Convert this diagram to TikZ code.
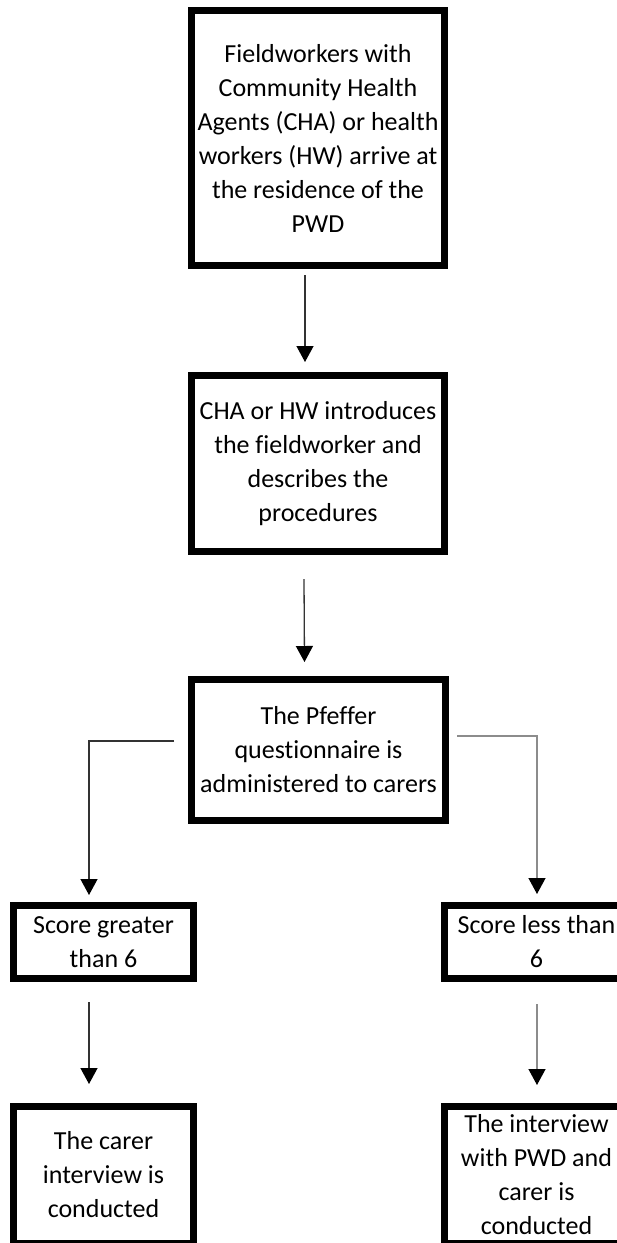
\documentclass[tikz,border=0pt]{standalone}
\usepackage{fontspec}
\setmainfont{Carlito}[Ligatures=CommonOff]
\usetikzlibrary{arrows.meta}

\tikzset{
  stepbox/.style={draw, line width=7pt, inner sep=0pt, align=center,
    font=\fontsize{26}{34}\selectfont},
  arr/.style={line width=1.3pt, draw=black!80,
    -{Triangle[width=17pt,length=16pt,color=black]}},
  arrgrey/.style={arr, draw=black!45},
}

\begin{document}
\begin{tikzpicture}[x=1pt,y=-1pt]
    \useasboundingbox (0,0) rectangle (617,1243);
    \clip (0,0) rectangle (617,1243);

    % main column
    \node[stepbox, minimum width=253pt, minimum height=255pt] (arrive) at (318,138)
        {Fieldworkers with\\Community Health\\Agents (CHA) or health\\workers (HW) arrive at\\the residence of the\\PWD};
    \node[stepbox, minimum width=253pt, minimum height=176pt] (intro) at (318,463.5)
        {CHA or HW introduces\\the fieldworker and\\describes the\\procedures};
    \node[stepbox, minimum width=254pt, minimum height=141pt] (pfeffer) at (318.5,750)
        {The Pfeffer\\questionnaire is\\administered to carers};

    % score branches
    \node[stepbox, minimum width=180pt, minimum height=73pt] (greater) at (103.5,942)
        {Score greater\\than 6};
    \node[stepbox, minimum width=184pt, minimum height=73pt] (less) at (536.5,942)
        {Score less than\\6};
    \node[stepbox, minimum width=180pt, minimum height=137pt] (carer) at (103.5,1175)
        {The carer\\interview is\\conducted};
    \node[stepbox, minimum width=184pt, minimum height=137pt] (both) at (536.5,1175)
        {The interview\\with PWD and\\carer is\\conducted};

    \draw[arr] ([xshift=-13pt,yshift=-6pt]arrive.south) -- ([xshift=-13pt,yshift=10pt]intro.north);
    \draw[arr] ([xshift=-14pt,yshift=-24pt]intro.south) -- ([xshift=-14pt,yshift=14pt]pfeffer.north);
    \draw[arr] ([xshift=-14pt,yshift=9pt]pfeffer.west) -| ([xshift=-14.5pt,yshift=7pt]greater.north);
    \draw[arrgrey] ([xshift=8pt,yshift=14pt]pfeffer.east) -| ([xshift=0.5pt,yshift=8pt]less.north);
    \draw[arr] ([xshift=-14.5pt,yshift=-20pt]greater.south) -- ([xshift=-14.5pt,yshift=19pt]carer.north);
    \draw[arrgrey] ([xshift=0.5pt,yshift=-22pt]less.south) -- ([xshift=0.5pt,yshift=18pt]both.north);
\end{tikzpicture}
\end{document}
